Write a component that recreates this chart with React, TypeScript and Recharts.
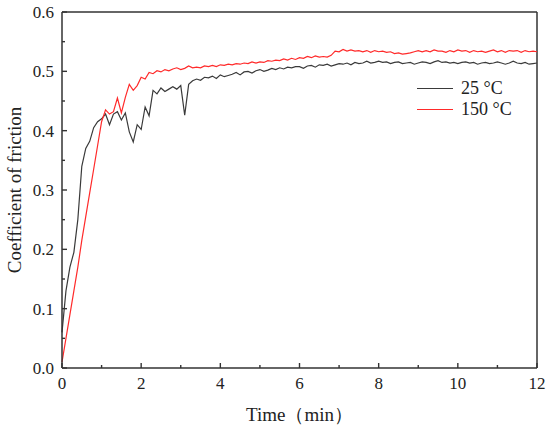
import { Line, LineChart, ReferenceLine, XAxis, YAxis } from 'recharts'

// time grid (min) shared by both runs
const minutes = [
  0, 0.1, 0.2, 0.3, 0.4, 0.5, 0.6, 0.7, 0.8, 0.9,
  1, 1.1, 1.2, 1.3, 1.4, 1.5, 1.6, 1.7, 1.8, 1.9,
  2, 2.1, 2.2, 2.3, 2.4, 2.5, 2.6, 2.7, 2.8, 2.9,
  3, 3.1, 3.2, 3.3, 3.4, 3.5, 3.6, 3.7, 3.8, 3.9,
  4, 4.1, 4.2, 4.3, 4.4, 4.5, 4.6, 4.7, 4.8, 4.9,
  5, 5.1, 5.2, 5.3, 5.4, 5.5, 5.6, 5.7, 5.8, 5.9,
  6, 6.1, 6.2, 6.3, 6.4, 6.5, 6.6, 6.7, 6.8, 6.9,
  7, 7.1, 7.2, 7.3, 7.4, 7.5, 7.6, 7.7, 7.8, 7.9,
  8, 8.1, 8.2, 8.3, 8.4, 8.5, 8.6, 8.7, 8.8, 8.9,
  9, 9.1, 9.2, 9.3, 9.4, 9.5, 9.6, 9.7, 9.8, 9.9,
  10, 10.1, 10.2, 10.3, 10.4, 10.5, 10.6, 10.7, 10.8, 10.9,
  11, 11.1, 11.2, 11.3, 11.4, 11.5, 11.6, 11.7, 11.8, 11.9,
  12,
]

// 25 °C
const cof25 = [
  0.06, 0.13, 0.17, 0.195, 0.25, 0.34, 0.37, 0.382, 0.405, 0.415,
  0.42, 0.428, 0.41, 0.428, 0.432, 0.418, 0.43, 0.398, 0.381, 0.41,
  0.402, 0.44, 0.425, 0.468, 0.462, 0.472, 0.466, 0.47, 0.474, 0.47,
  0.476, 0.426, 0.478, 0.484, 0.487, 0.485, 0.49, 0.489, 0.492, 0.488,
  0.494, 0.491, 0.493, 0.495, 0.498, 0.494, 0.499, 0.5, 0.497, 0.501,
  0.503, 0.5, 0.502, 0.505, 0.503, 0.506, 0.504, 0.507, 0.506, 0.508,
  0.508, 0.505, 0.509, 0.51, 0.507, 0.511, 0.51, 0.512, 0.509, 0.511,
  0.513, 0.512, 0.514, 0.511, 0.515, 0.513, 0.514, 0.517, 0.514, 0.515,
  0.517, 0.515, 0.516, 0.513, 0.515, 0.516, 0.513, 0.514, 0.515, 0.512,
  0.514, 0.516, 0.515, 0.513, 0.516, 0.518, 0.515, 0.516, 0.514, 0.515,
  0.513, 0.515, 0.516, 0.514, 0.515, 0.512, 0.514, 0.515, 0.513, 0.514,
  0.516, 0.514, 0.512, 0.514, 0.517, 0.514, 0.513, 0.515, 0.512, 0.513,
  0.514,
]

// 150 °C
const cof150 = [
  0.01, 0.05, 0.09, 0.13, 0.17, 0.215, 0.255, 0.295, 0.335, 0.375,
  0.415, 0.435, 0.428, 0.432, 0.455, 0.43, 0.456, 0.478, 0.468, 0.476,
  0.49, 0.487, 0.498, 0.496, 0.501, 0.499, 0.503, 0.501, 0.504, 0.506,
  0.503, 0.505, 0.509, 0.506, 0.507, 0.506, 0.509, 0.508, 0.51, 0.508,
  0.511, 0.51, 0.512, 0.511, 0.513, 0.512, 0.514, 0.513, 0.516, 0.514,
  0.516, 0.515, 0.518, 0.517, 0.519, 0.518, 0.521, 0.519, 0.522, 0.52,
  0.523, 0.522, 0.525, 0.523, 0.526, 0.524, 0.525, 0.524, 0.527, 0.534,
  0.533, 0.537, 0.534, 0.536, 0.534, 0.535, 0.533, 0.535, 0.532, 0.535,
  0.533, 0.534, 0.532, 0.533, 0.53, 0.531, 0.529, 0.53, 0.531, 0.533,
  0.535, 0.533, 0.535, 0.533, 0.536, 0.534, 0.534, 0.532, 0.535, 0.533,
  0.536, 0.534, 0.535, 0.532, 0.535, 0.533, 0.534, 0.532, 0.534, 0.536,
  0.533, 0.535, 0.532, 0.535, 0.534, 0.535, 0.532, 0.535, 0.533, 0.534,
  0.533,
]

const xTicks = [0, 1, 2, 3, 4, 5, 6, 7, 8, 9, 10, 11, 12]
const yTicks = [0, 0.05, 0.1, 0.15, 0.2, 0.25, 0.3, 0.35, 0.4, 0.45, 0.5, 0.55, 0.6]

const series = [
  { key: 'c25', name: '25 °C', color: '#3a3a3a' },
  { key: 'c150', name: '150 °C', color: '#ff2a2a' },
]

const data = minutes.map((t, i) => ({ t, c25: cof25[i], c150: cof150[i] }))

const FONT = '"Liberation Serif", "Times New Roman", serif'
const AXIS = '#333333'

function XTick({ x, y, payload }: any) {
  const v = payload.value
  const major = v % 2 === 0
  return (
    <g>
      <line x1={x} x2={x} y1={y} y2={y - (major ? 5 : 3)} stroke={AXIS} strokeWidth={1.4} />
      {major && (
        <text x={x} y={y + 21} textAnchor="middle" fontFamily={FONT} fontSize={17} fill="#222">
          {v}
        </text>
      )}
    </g>
  )
}

function YTick({ x, y, payload }: any) {
  const v = payload.value
  const major = Math.round(v * 100) % 10 === 0
  return (
    <g>
      <line x1={x} x2={x + (major ? 5 : 3)} y1={y} y2={y} stroke={AXIS} strokeWidth={1.4} />
      {major && (
        <text x={x - 8} y={y + 6} textAnchor="end" fontFamily={FONT} fontSize={17} fill="#222">
          {v.toFixed(1)}
        </text>
      )}
    </g>
  )
}

function LegendBox() {
  return (
    <div style={{ position: 'absolute', left: 417, top: 78, fontFamily: FONT, fontSize: 18, color: '#222' }}>
      {series.map((s) => (
        <div key={s.key} style={{ display: 'flex', alignItems: 'center', height: 21 }}>
          <span style={{ display: 'inline-block', width: 36, height: 0, borderTop: `1.5px solid ${s.color}` }} />
          <span style={{ marginLeft: 8 }}>{s.name}</span>
        </div>
      ))}
    </div>
  )
}

export default function App() {
  return (
    <div style={{ position: 'fixed', left: 0, top: 0, width: 550, height: 428, background: '#fff' }}>
      <LineChart width={550} height={428} data={data} margin={{ top: 12, right: 13, left: 0, bottom: 0 }}>
        <XAxis
          dataKey="t"
          type="number"
          domain={[0, 12]}
          ticks={xTicks}
          interval={0}
          height={60}
          tickSize={0}
          tickMargin={0}
          tickLine={false}
          tick={<XTick />}
          axisLine={{ stroke: AXIS, strokeWidth: 1.5 }}
          label={{ value: 'Time（min）', position: 'insideBottom', offset: 7, fontFamily: FONT, fontSize: 19, fill: '#222' }}
        />
        <YAxis
          type="number"
          domain={[0, 0.6]}
          ticks={yTicks}
          interval={0}
          width={62}
          tickSize={0}
          tickMargin={0}
          tickLine={false}
          tick={<YTick />}
          axisLine={{ stroke: AXIS, strokeWidth: 1.5 }}
          label={{
            value: 'Coefficient of friction',
            angle: -90,
            position: 'insideLeft',
            offset: 14,
            style: { textAnchor: 'middle' },
            fontFamily: FONT,
            fontSize: 19,
            fill: '#222',
          }}
        />
        {/* closing frame on top and right */}
        <ReferenceLine y={0.6} stroke={AXIS} strokeWidth={1.5} />
        <ReferenceLine x={12} stroke={AXIS} strokeWidth={1.5} />
        {series.map((s) => (
          <Line
            key={s.key}
            dataKey={s.key}
            name={s.name}
            stroke={s.color}
            strokeWidth={1.2}
            dot={false}
            type="linear"
            isAnimationActive={false}
          />
        ))}
      </LineChart>
      <LegendBox />
    </div>
  )
}
